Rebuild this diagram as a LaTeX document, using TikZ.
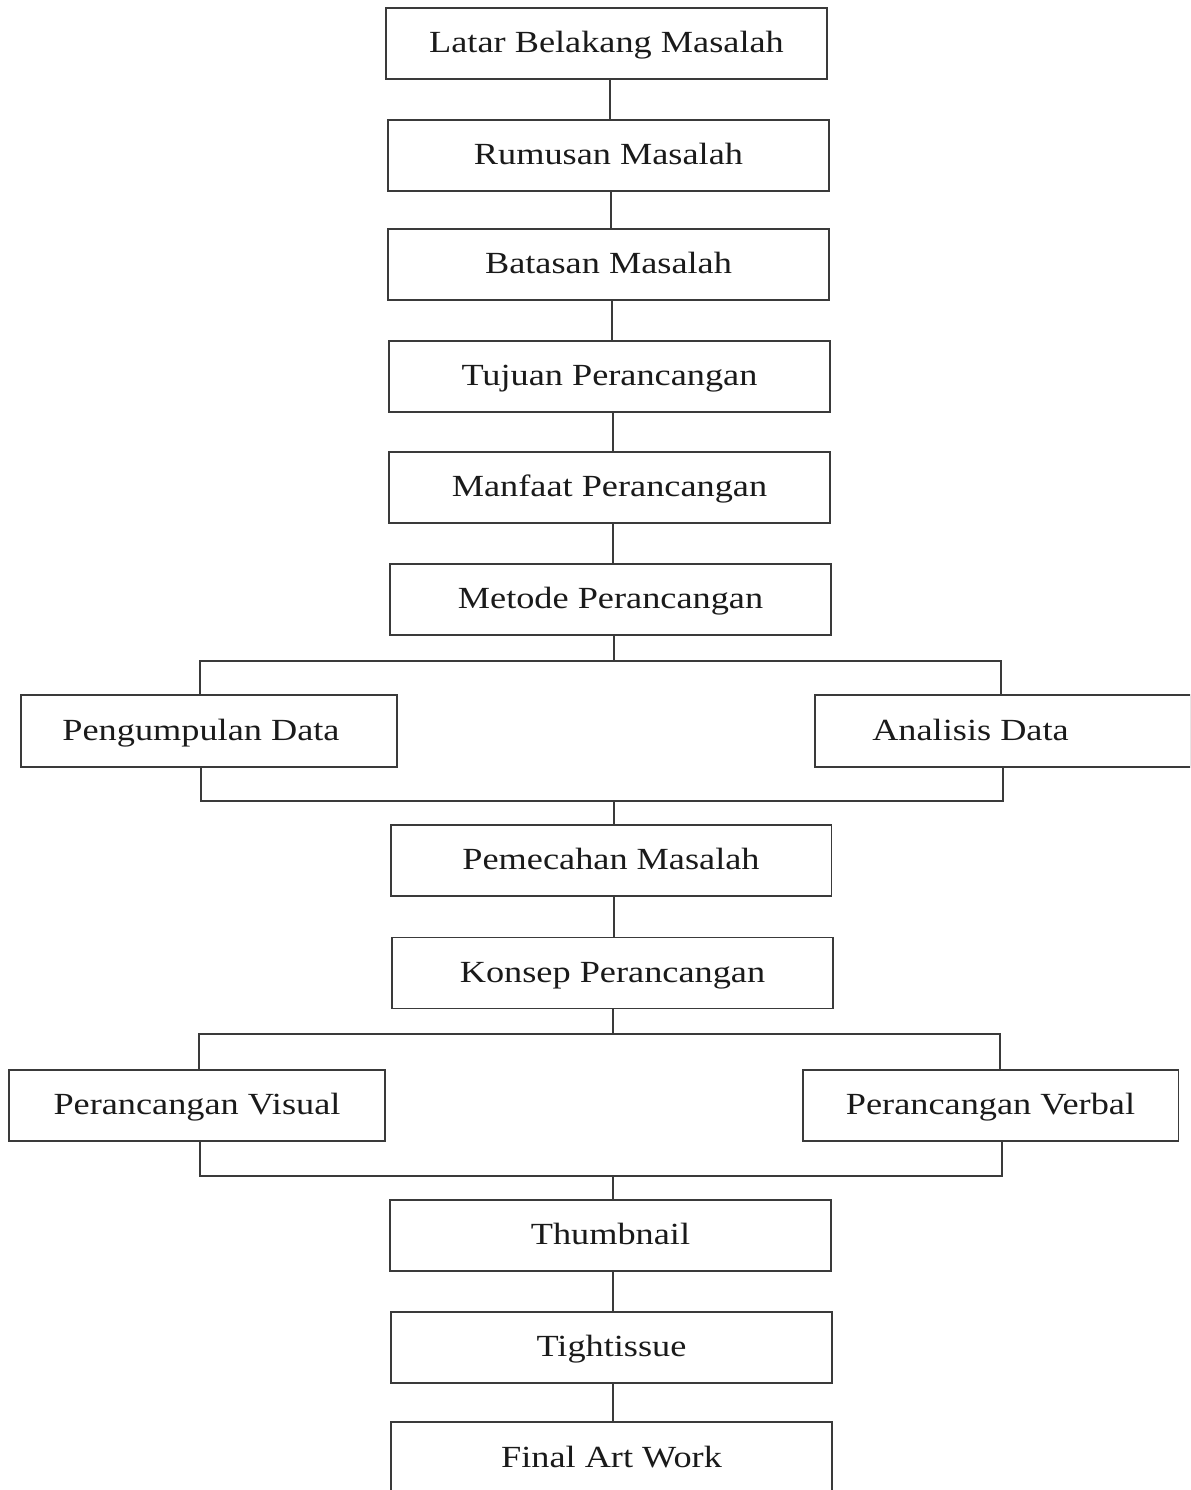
\documentclass[tikz,border=0pt]{standalone}
\usepackage{fontspec}
\setmainfont{Liberation Serif}[FakeStretch=1.18]
\definecolor{linec}{HTML}{3A3A3A}
\definecolor{txtc}{HTML}{1A1A1A}
\begin{document}
\begin{tikzpicture}[x=0.02cm,y=-0.02cm,
  box/.style={draw=linec,line width=1.1pt,rectangle,inner sep=0pt,text=txtc,
    font=\fontsize{17.5}{20}\selectfont,text height=0.5cm,text depth=0.13cm},
  midbox/.style={box,minimum width=8.82cm,minimum height=1.42cm},
  sidebox/.style={box,minimum width=7.52cm,minimum height=1.43cm},
  conn/.style={draw=linec,line width=1.1pt}]
\useasboundingbox (0,0) rectangle (1190,1490);
\clip (0,0) rectangle (1190,1490);
\fill[white] (0,0) rectangle (1190,1490);

\node[midbox] (lbm) at (606.5,43.5) {Latar Belakang Masalah};
\node[midbox] (rm) at (608.5,155.5) {Rumusan Masalah};
\node[midbox] (bm) at (608.5,264.5) {Batasan Masalah};
\node[midbox] (tp) at (609.5,376.5) {Tujuan Perancangan};
\node[midbox] (mp) at (609.5,487.5) {Manfaat Perancangan};
\node[midbox] (mtp) at (610.5,599.5) {Metode Perancangan};
\node[sidebox] (pd) at (209,731) {\hspace*{-0.32cm}Pengumpulan Data};
\node[sidebox] (ad) at (1002.5,731) {\hspace*{-1.28cm}Analisis Data};
\node[midbox] (pmas) at (611,860.5) {Pemecahan Masalah};
\node[midbox] (kp) at (612.5,973) {Konsep Perancangan};
\node[sidebox] (pv) at (197,1105.5) {Perancangan Visual};
\node[sidebox] (pvb) at (990.5,1105.5) {Perancangan Verbal};
\node[midbox] (th) at (610.5,1235.5) {Thumbnail};
\node[midbox] (ti) at (611.5,1347.5) {Tightissue};
\node[midbox,minimum height=1.46cm] (faw) at (611.5,1458.5) {Final Art Work};

% straight links
\draw[conn] (610,79) coordinate (c1) -- (c1 |- rm.north);
\draw[conn] (611,191) coordinate (c2) -- (c2 |- bm.north);
\draw[conn] (612,300) coordinate (c3) -- (c3 |- tp.north);
\draw[conn] (613,412) coordinate (c4) -- (c4 |- mp.north);
\draw[conn] (613,523) coordinate (c5) -- (c5 |- mtp.north);

% first branch
\coordinate (b1m) at (614,661);
\coordinate (b1l) at (200,661);
\coordinate (b1r) at (1001,661);
\draw[conn] (b1m |- mtp.south) -- (b1m);
\draw[conn] (b1l |- pd.north) -- (b1l) -- (b1r) -- (b1r |- ad.north);
\coordinate (j1l) at (201,801);
\coordinate (j1r) at (1003,801);
\coordinate (j1m) at (614,801);
\draw[conn] (j1l |- pd.south) -- (j1l) -- (j1r) -- (j1r |- ad.south);
\draw[conn] (j1m) -- (j1m |- pmas.north);

\draw[conn] (614,896) coordinate (c6) -- (c6 |- kp.north);

% second branch
\coordinate (b2m) at (613,1034);
\coordinate (b2l) at (199,1034);
\coordinate (b2r) at (1000,1034);
\draw[conn] (b2m |- kp.south) -- (b2m);
\draw[conn] (b2l |- pv.north) -- (b2l) -- (b2r) -- (b2r |- pvb.north);
\coordinate (j2l) at (200,1176);
\coordinate (j2r) at (1002,1176);
\coordinate (j2m) at (613,1176);
\draw[conn] (j2l |- pv.south) -- (j2l) -- (j2r) -- (j2r |- pvb.south);
\draw[conn] (j2m) -- (j2m |- th.north);

\draw[conn] (613,1271) coordinate (c7) -- (c7 |- ti.north);
\draw[conn] (613,1383) coordinate (c8) -- (c8 |- faw.north);
\end{tikzpicture}
\end{document}
